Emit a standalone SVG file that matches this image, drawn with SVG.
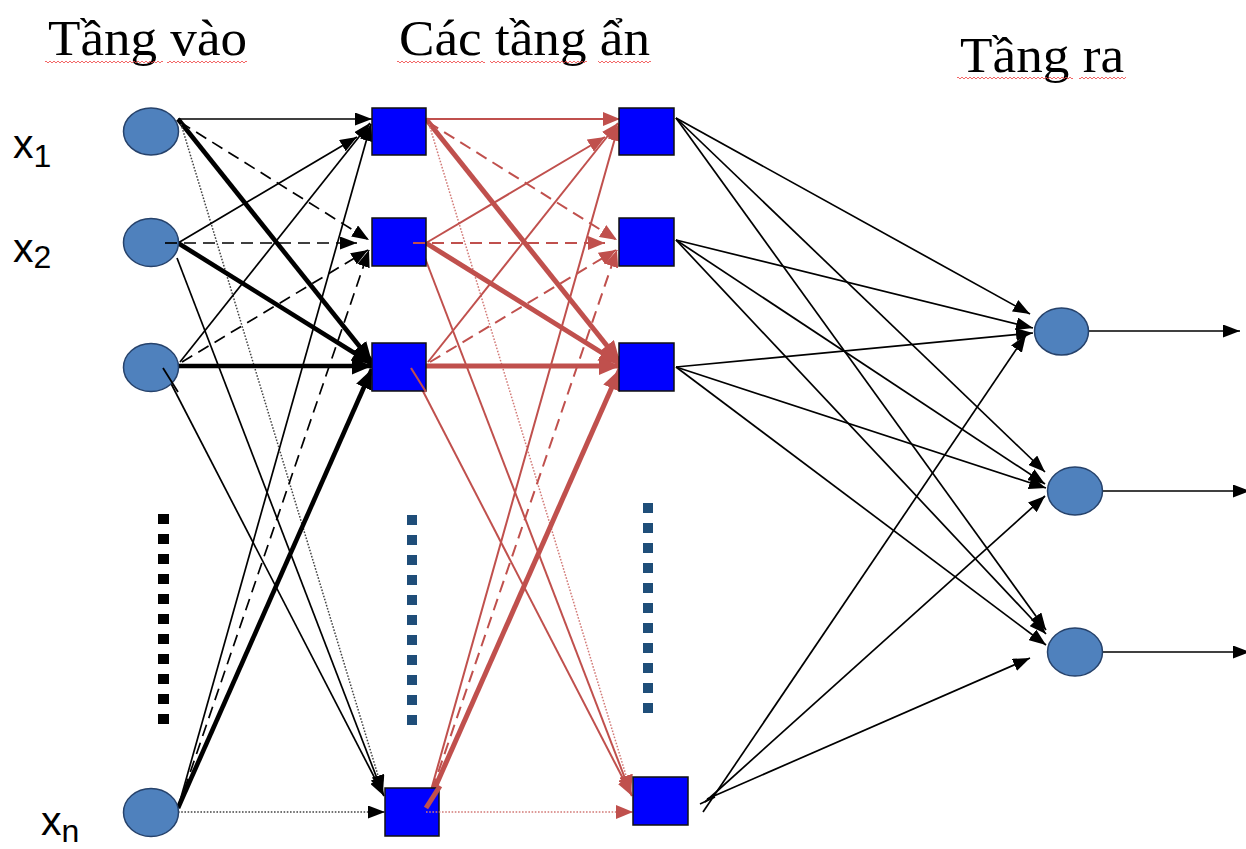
<svg xmlns="http://www.w3.org/2000/svg" width="1246" height="849" viewBox="0 0 1246 849">
  <style>
    .title { font-family: "Liberation Serif", "Times New Roman", serif; font-size: 50px; fill: #000; }
    .var { font-family: "Liberation Sans", Arial, sans-serif; font-size: 41px; fill: #000; }
    .sub { font-size: 32px; }
    .neuron { fill: #4F81BD; stroke: #26426B; stroke-width: 1.5; }
    .unit { fill: #0000FF; stroke: #111; stroke-width: 1.5; }
    .k { stroke: #000; fill: none; stroke-width: 1.7; }
    .k.thick { stroke-width: 4.6; }
    .r { stroke: #C0504D; fill: none; stroke-width: 2; }
    .r.thick { stroke-width: 5; }
    .dash { stroke-dasharray: 12 7; }
    .dot { stroke-dasharray: 1.6 1.6; stroke-width: 1.5; }
    .r.dot { stroke: #D27A77; }
    .k.dot { stroke: #444; }
    .ellip { fill: none; stroke-width: 11; stroke-dasharray: 10 10; }
    .squiggle { fill: url(#wavy); }
  </style>
  <defs>
    <marker id="ak" viewBox="0 0 17 13" markerWidth="17" markerHeight="13" refX="17" refY="6.5" orient="auto" markerUnits="userSpaceOnUse">
      <path d="M0,0 L17,6.5 L0,13 Z" fill="#000"/>
    </marker>
    <marker id="akT" viewBox="0 0 20 17" markerWidth="20" markerHeight="17" refX="20" refY="8.5" orient="auto" markerUnits="userSpaceOnUse">
      <path d="M0,0 L20,8.5 L0,17 Z" fill="#000"/>
    </marker>
    <marker id="ar" viewBox="0 0 17 14" markerWidth="17" markerHeight="14" refX="17" refY="7" orient="auto" markerUnits="userSpaceOnUse">
      <path d="M0,0 L17,7 L0,14 Z" fill="#C0504D"/>
    </marker>
    <marker id="arT" viewBox="0 0 21 18" markerWidth="21" markerHeight="18" refX="21" refY="9" orient="auto" markerUnits="userSpaceOnUse">
      <path d="M0,0 L21,9 L0,18 Z" fill="#C0504D"/>
    </marker>
    <pattern id="wavy" x="0" y="0" width="4" height="4" patternUnits="userSpaceOnUse">
      <path d="M0,3 L2,1 L4,3" fill="none" stroke="#F04040" stroke-width="0.8"/>
    </pattern>
  </defs>

  <!-- layer captions -->
  <g id="captions">
    <text class="title" x="48" y="55" textLength="199" lengthAdjust="spacingAndGlyphs">Tầng vào</text>
    <text class="title" x="399" y="55" textLength="251" lengthAdjust="spacingAndGlyphs">Các tầng ẩn</text>
    <text class="title" x="960" y="72" textLength="164" lengthAdjust="spacingAndGlyphs">Tầng ra</text>
    <!-- spelling squiggles under the captions -->
    <rect class="squiggle" x="45" y="60" width="118" height="4"/>
    <rect class="squiggle" x="167" y="60" width="80" height="4"/>
    <rect class="squiggle" x="397" y="60" width="88" height="4"/>
    <rect class="squiggle" x="490" y="60" width="97" height="4"/>
    <rect class="squiggle" x="598" y="60" width="53" height="4"/>
    <rect class="squiggle" x="957" y="76" width="116" height="4"/>
    <rect class="squiggle" x="1079" y="76" width="47" height="4"/>
  </g>

  <!-- input variable labels -->
  <g id="labels">
    <text class="var" x="13" y="158">x<tspan class="sub" dy="9">1</tspan></text>
    <text class="var" x="13" y="262">x<tspan class="sub" dy="6">2</tspan></text>
    <text class="var" x="41" y="835">x<tspan class="sub" dy="7">n</tspan></text>
  </g>

  <!-- vertical ellipsis marks -->
  <g id="ellipses">
    <line class="ellip" x1="163.5" y1="514" x2="163.5" y2="724" stroke="#000"/>
    <line class="ellip" x1="412" y1="515" x2="412" y2="725" stroke="#1F4E79" style="stroke-width:10"/>
    <line class="ellip" x1="648" y1="503" x2="648" y2="713" stroke="#1F4E79" style="stroke-width:10"/>
  </g>

  <g id="connectors">
    <!-- input layer to first hidden layer -->
    <g id="conn-in-h1">
      <line class="k" x1="178" y1="119" x2="372" y2="119" marker-end="url(#ak)"/>
      <line class="k thick" x1="178" y1="119" x2="372" y2="362" marker-end="url(#akT)"/>
      <line class="k dash" x1="180" y1="122" x2="369" y2="240" marker-end="url(#ak)"/>
      <line class="k dot" x1="181" y1="124" x2="383" y2="792" marker-end="url(#ak)"/>
      <line class="k" x1="178" y1="243" x2="357" y2="137" marker-end="url(#ak)"/>
      <line class="k dash" x1="165" y1="243" x2="357" y2="243" marker-end="url(#ak)"/>
      <line class="k thick" x1="178" y1="243" x2="372" y2="364" marker-end="url(#akT)"/>
      <line class="k" x1="177" y1="258" x2="383" y2="794" marker-end="url(#ak)"/>
      <line class="k thick" x1="178" y1="366" x2="372" y2="366" marker-end="url(#akT)"/>
      <line class="k" x1="180" y1="362" x2="370" y2="123" marker-end="url(#ak)"/>
      <line class="k dash" x1="182" y1="362" x2="368" y2="250" marker-end="url(#ak)"/>
      <line class="k" x1="163" y1="368" x2="384" y2="796" marker-end="url(#ak)"/>
      <line class="k" x1="178" y1="808" x2="371" y2="124" marker-end="url(#ak)"/>
      <line class="k dash" x1="178" y1="808" x2="369" y2="250" marker-end="url(#ak)"/>
      <line class="k thick" x1="178" y1="808" x2="372" y2="369" marker-end="url(#akT)"/>
      <line class="k dot" x1="178" y1="812" x2="385" y2="812" marker-end="url(#ak)"/>
    </g>
    <!-- first hidden layer to second hidden layer -->
    <g id="conn-h1-h2" transform="translate(248,0)">
      <line class="r" x1="178" y1="119" x2="372" y2="119" marker-end="url(#ar)"/>
      <line class="r thick" x1="178" y1="119" x2="372" y2="362" marker-end="url(#arT)"/>
      <line class="r dash" x1="180" y1="122" x2="369" y2="240" marker-end="url(#ar)"/>
      <line class="r dot" x1="181" y1="124" x2="383" y2="792" marker-end="url(#ar)"/>
      <line class="r" x1="178" y1="243" x2="357" y2="137" marker-end="url(#ar)"/>
      <line class="r dash" x1="165" y1="243" x2="357" y2="243" marker-end="url(#ar)"/>
      <line class="r thick" x1="178" y1="243" x2="372" y2="364" marker-end="url(#arT)"/>
      <line class="r" x1="177" y1="258" x2="383" y2="794" marker-end="url(#ar)"/>
      <line class="r thick" x1="178" y1="366" x2="372" y2="366" marker-end="url(#arT)"/>
      <line class="r" x1="180" y1="362" x2="370" y2="123" marker-end="url(#ar)"/>
      <line class="r dash" x1="182" y1="362" x2="368" y2="250" marker-end="url(#ar)"/>
      <line class="r" x1="163" y1="368" x2="384" y2="796" marker-end="url(#ar)"/>
      <line class="r" x1="178" y1="808" x2="371" y2="124" marker-end="url(#ar)"/>
      <line class="r dash" x1="178" y1="808" x2="369" y2="250" marker-end="url(#ar)"/>
      <line class="r thick" x1="178" y1="808" x2="372" y2="369" marker-end="url(#arT)"/>
      <line class="r dot" x1="178" y1="812" x2="385" y2="812" marker-end="url(#ar)"/>
    </g>
    <!-- second hidden layer to output layer -->
    <g id="conn-h2-out">
      <line class="k" x1="676" y1="118" x2="1030" y2="314" marker-end="url(#ak)"/>
      <line class="k" x1="676" y1="118" x2="1045" y2="472" marker-end="url(#ak)"/>
      <line class="k" x1="676" y1="118" x2="1046" y2="630" marker-end="url(#ak)"/>
      <line class="k" x1="676" y1="240" x2="1033" y2="328" marker-end="url(#ak)"/>
      <line class="k" x1="676" y1="240" x2="1045" y2="484" marker-end="url(#ak)"/>
      <line class="k" x1="676" y1="240" x2="1046" y2="634" marker-end="url(#ak)"/>
      <line class="k" x1="676" y1="367" x2="1033" y2="333" marker-end="url(#ak)"/>
      <line class="k" x1="676" y1="367" x2="1046" y2="488" marker-end="url(#ak)"/>
      <line class="k" x1="676" y1="367" x2="1046" y2="645" marker-end="url(#ak)"/>
      <line class="k" x1="703" y1="812" x2="1026" y2="335" marker-end="url(#ak)"/>
      <line class="k" x1="705" y1="802" x2="1045" y2="496" marker-end="url(#ak)"/>
      <line class="k" x1="707" y1="799" x2="1030" y2="658" marker-end="url(#ak)"/>
      <line class="k" x1="700" y1="804" x2="715" y2="797"/>
    </g>
    <!-- outputs leaving the network -->
    <g id="conn-out">
      <line class="k" x1="1088" y1="331" x2="1240" y2="331" marker-end="url(#ak)"/>
      <line class="k" x1="1102" y1="491" x2="1250" y2="491" marker-end="url(#ak)"/>
      <line class="k" x1="1102" y1="652" x2="1250" y2="652" marker-end="url(#ak)"/>
    </g>
  </g>

  <!-- input layer -->
  <g id="in-1"><ellipse class="neuron" cx="151" cy="131.5" rx="27.5" ry="23.5"/></g>
  <g id="in-2"><ellipse class="neuron" cx="151" cy="242.5" rx="27.5" ry="24"/></g>
  <g id="in-3"><ellipse class="neuron" cx="151" cy="367.5" rx="27.5" ry="24"/></g>
  <g id="in-n"><ellipse class="neuron" cx="151" cy="812.5" rx="27.5" ry="24"/></g>

  <!-- first hidden layer -->
  <g id="h1-1"><rect class="unit" x="372" y="108" width="54" height="47"/></g>
  <g id="h1-2"><rect class="unit" x="372" y="218" width="54" height="48"/></g>
  <g id="h1-3"><rect class="unit" x="372" y="343" width="54" height="48"/></g>
  <g id="h1-n"><rect class="unit" x="385" y="788" width="54" height="48"/></g>

  <!-- second hidden layer -->
  <g id="h2-1"><rect class="unit" x="619" y="108" width="55" height="47"/></g>
  <g id="h2-2"><rect class="unit" x="619" y="218" width="55" height="48"/></g>
  <g id="h2-3"><rect class="unit" x="619" y="343" width="55" height="48"/></g>
  <g id="h2-n"><rect class="unit" x="633" y="777" width="55" height="48"/></g>

  <!-- output layer -->
  <g id="out-1"><ellipse class="neuron" cx="1061.5" cy="331.5" rx="27" ry="23.5"/></g>
  <g id="out-2"><ellipse class="neuron" cx="1075" cy="491" rx="27.5" ry="24"/></g>
  <g id="out-3"><ellipse class="neuron" cx="1075" cy="652" rx="27.5" ry="24"/></g>

  <!-- tails of connectors that start inside their source shapes -->
  <g id="inner-starts">
    <line class="k" x1="163" y1="368" x2="178" y2="392" />
    <line class="k dash" x1="165" y1="243" x2="178" y2="243"/>
    <line class="r" x1="411" y1="368" x2="426" y2="392"/>
    <line class="r dash" x1="413" y1="243" x2="426" y2="243"/>
    <line class="r thick" x1="426" y1="808" x2="440" y2="786"/>
    <line class="r dot" x1="426" y1="812" x2="440" y2="812"/>
  </g>
</svg>
